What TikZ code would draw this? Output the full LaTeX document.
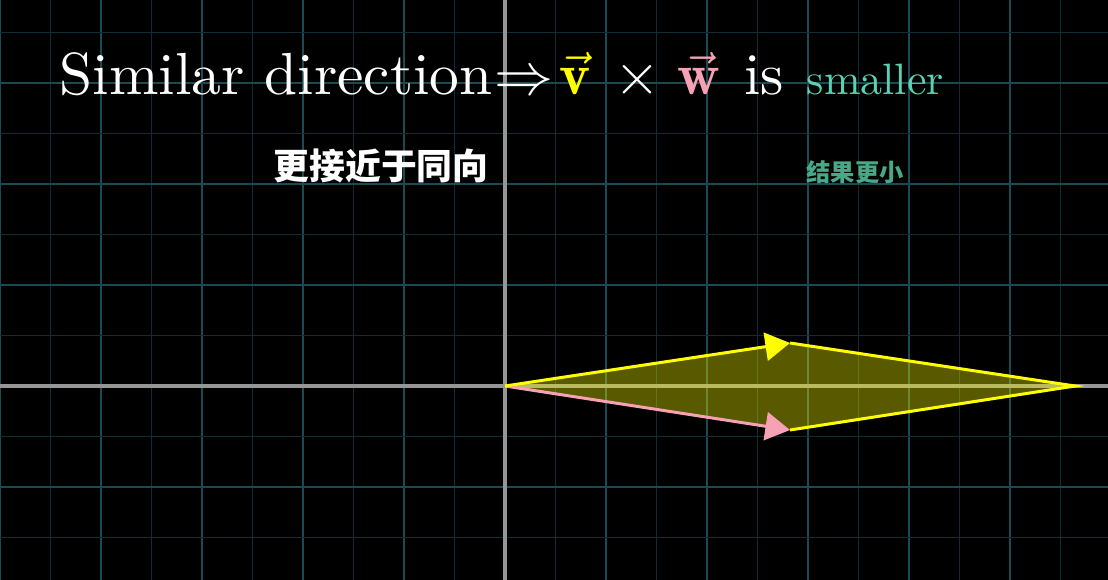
\documentclass[tikz,border=0pt]{standalone}
\usepackage{fontspec}
\usepackage{amsmath}
\newfontfamily\cjk{Noto Sans CJK SC}
\usetikzlibrary{arrows.meta}
\definecolor{bg}{RGB}{0,0,0}
\definecolor{gridmajor}{RGB}{26,74,84}
\definecolor{gridminor}{RGB}{16,44,52}
\definecolor{axiscol}{RGB}{150,150,150}
\definecolor{vyellow}{RGB}{255,255,0}
\definecolor{wpink}{RGB}{247,161,181}
\definecolor{tealA}{RGB}{92,208,179}
\definecolor{tealB}{RGB}{72,168,136}
\tikzset{
  majorline/.style={draw=gridmajor,line width=0.65pt},
  minorline/.style={draw=gridminor,line width=0.5pt},
  axisline/.style={draw=axiscol,line width=1pt},
  vecarrow/.style={line width=0.85pt,-{Triangle[length=7pt,width=8pt]}},
  edgeline/.style={draw=vyellow,line width=0.85pt},
  titletext/.style={inner sep=0pt,anchor=base,text=white},
  cjklabel/.style={inner sep=0pt,font=\cjk\bfseries\fontsize{10.2}{12}\selectfont}
}
\begin{document}
\begin{tikzpicture}[x=0.1mm,y=-0.1mm]
\fill[bg] (0,0) rectangle (1108,580);
\useasboundingbox (0,0) rectangle (1108,580);
% grid
\foreach \i in {-11,...,12}{
  \pgfmathsetmacro{\xx}{505+50.5*\i}
  \ifodd\i
    \draw[minorline] (\xx,0) -- (\xx,580);
  \else
    \draw[majorline] (\xx,0) -- (\xx,580);
  \fi
}
\foreach \j in {-8,...,4}{
  \pgfmathsetmacro{\yy}{386+50.5*\j}
  \ifodd\j
    \draw[minorline] (0,\yy) -- (1108,\yy);
  \else
    \draw[majorline] (0,\yy) -- (1108,\yy);
  \fi
}
% axes
\draw[axisline] (505,0) -- (505,580);
\draw[axisline] (0,386) -- (1108,386);
% vectors
\coordinate (O) at (505,386);
\coordinate (V) at (790,343);
\coordinate (W) at (790,430);
\coordinate (S) at (1075,386);
\fill[vyellow,fill opacity=0.35] (O) -- (V) -- (S) -- (W) -- cycle;
\draw[edgeline] (V) -- (S) -- (W);
\draw[vecarrow,draw=wpink,fill=wpink] (O) -- (W);
\draw[vecarrow,draw=vyellow,fill=vyellow] (O) -- (V);
% title
\node[titletext,anchor=base west] (t1) at (59,95) {\scalebox{1.69}{\fontsize{10}{12}\selectfont Similar direction}};
\node[titletext] (t2) at (524,95) {\scalebox{1.68}{\fontsize{10}{12}\selectfont $\Rightarrow$}};
\node[titletext,text=vyellow] (t3) at (575,95) {\scalebox{1.68}{\fontsize{10}{12}\selectfont $\vec{\mathbf{v}}$}};
\node[titletext] (t4) at (637,95) {\scalebox{1.68}{\fontsize{10}{12}\selectfont $\times$}};
\node[titletext,text=wpink] (t5) at (699,95) {\scalebox{1.68}{\fontsize{10}{12}\selectfont $\vec{\mathbf{w}}$}};
\node[titletext] (t6) at (764,95) {\scalebox{1.68}{\fontsize{10}{12}\selectfont is}};
\node[titletext,anchor=base west,text=tealA] (t7) at (806,95) {\scalebox{1.25}{\fontsize{10}{12}\selectfont smaller}};
% chinese labels
\node[cjklabel,text=white] (c1) at (381,166) {更接近于同向};
\node[cjklabel,text=tealB,font=\cjk\bfseries\fontsize{6.9}{8}\selectfont] (c2) at (855,172) {结果更小};
\end{tikzpicture}
\end{document}
